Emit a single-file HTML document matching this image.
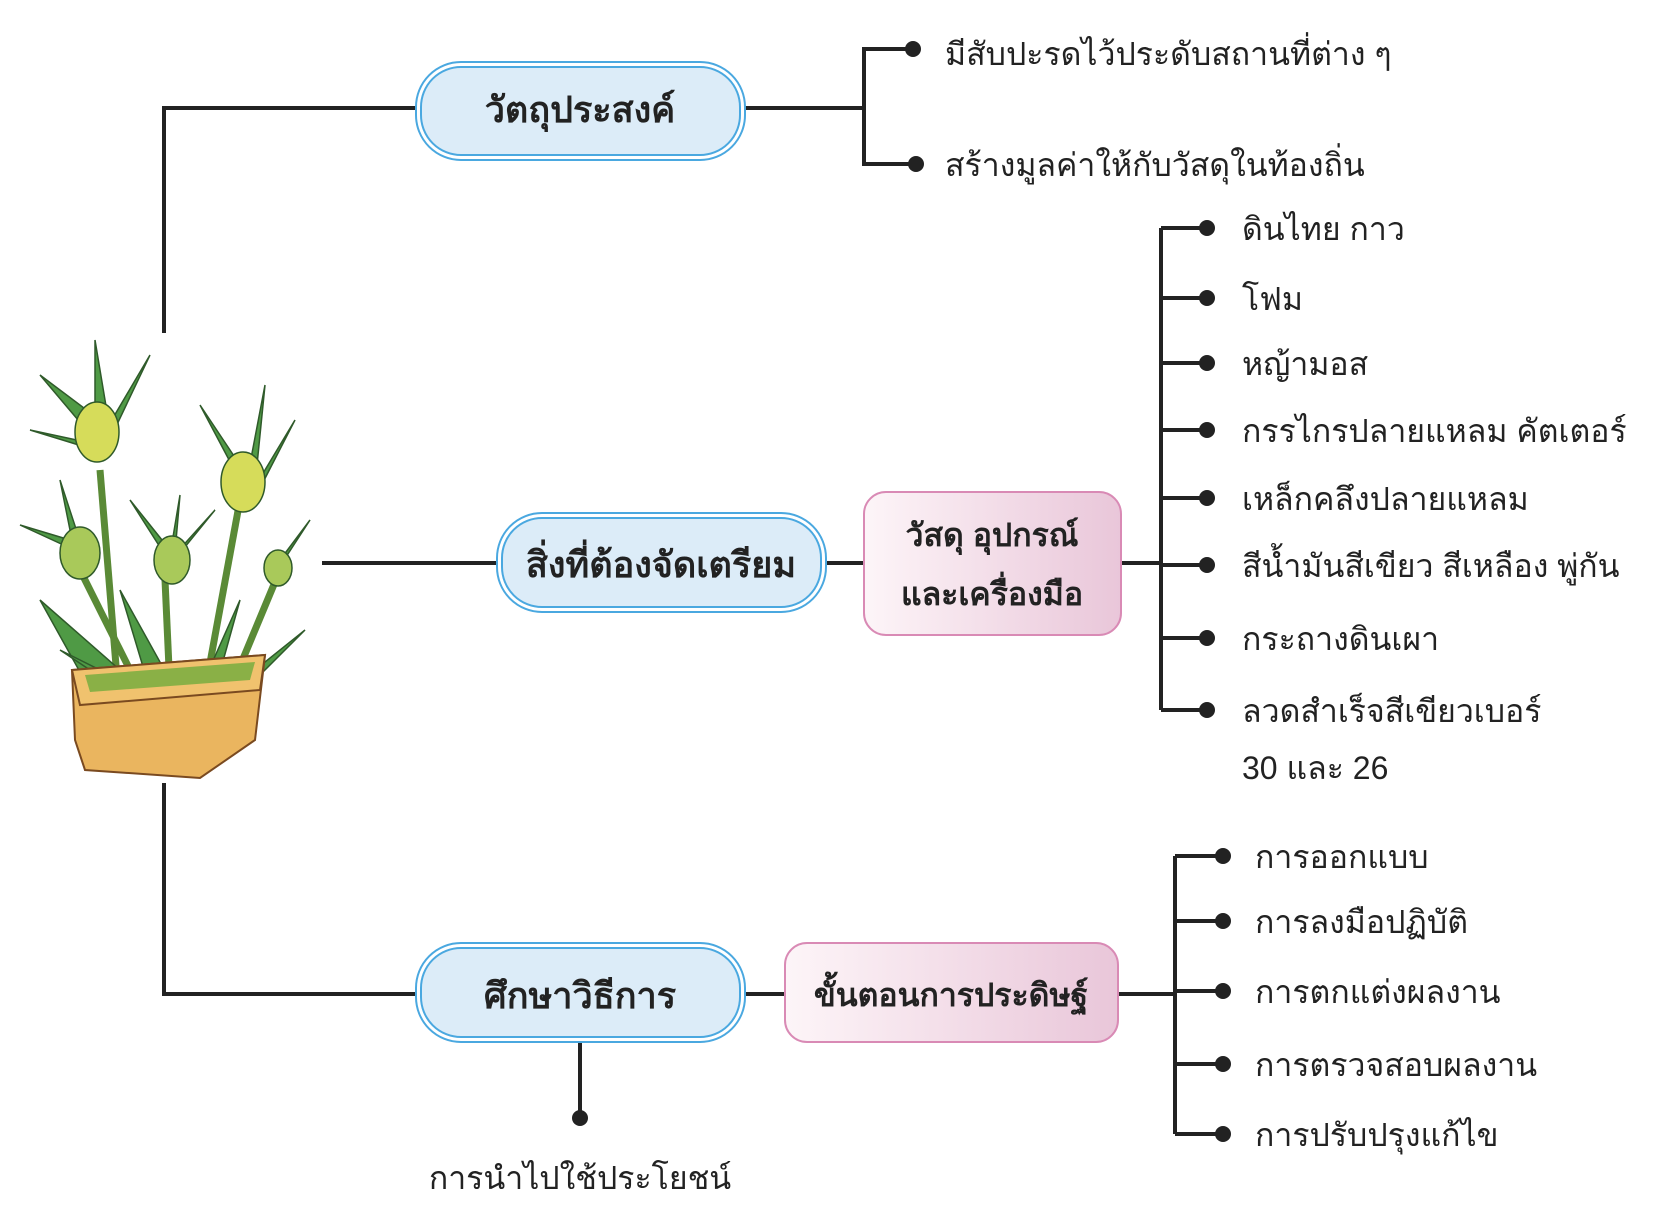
<!DOCTYPE html>
<html><head><meta charset="utf-8"><style>
body{margin:0;background:#fff;}
.t{font-family:"Liberation Sans","Noto Sans CJK SC",sans-serif;fill:#222;}
</style></head><body>
<svg width="1674" height="1202" viewBox="0 0 1674 1202" xmlns="http://www.w3.org/2000/svg">
<defs>
<linearGradient id="pk" x1="0" x2="1"><stop offset="0" stop-color="#fdf5f8"/><stop offset="1" stop-color="#e9c6d9"/></linearGradient>
</defs>
<g stroke="#222" stroke-width="4" fill="none">
<polyline points="164,333 164,108 416,108"/>
<line x1="745" y1="108" x2="864" y2="108"/>
<polyline points="913,49 864,49 864,164 916,164"/>
<line x1="322" y1="563" x2="497" y2="563"/>
<line x1="826" y1="563" x2="864" y2="563"/>
<line x1="1121" y1="563" x2="1161" y2="563"/>
<line x1="1161" y1="228" x2="1161" y2="710"/>
<line x1="1161" y1="228" x2="1207" y2="228"/><line x1="1161" y1="298" x2="1207" y2="298"/>
<line x1="1161" y1="363" x2="1207" y2="363"/><line x1="1161" y1="430" x2="1207" y2="430"/>
<line x1="1161" y1="498" x2="1207" y2="498"/><line x1="1161" y1="565" x2="1207" y2="565"/>
<line x1="1161" y1="638" x2="1207" y2="638"/><line x1="1161" y1="710" x2="1207" y2="710"/>
<polyline points="164,783 164,994 416,994"/>
<line x1="580" y1="1042" x2="580" y2="1118"/>
<line x1="745" y1="994" x2="785" y2="994"/>
<line x1="1118" y1="994" x2="1175" y2="994"/>
<line x1="1175" y1="856" x2="1175" y2="1134"/>
<line x1="1175" y1="856" x2="1223" y2="856"/><line x1="1175" y1="921" x2="1223" y2="921"/>
<line x1="1175" y1="991" x2="1223" y2="991"/><line x1="1175" y1="1064" x2="1223" y2="1064"/>
<line x1="1175" y1="1134" x2="1223" y2="1134"/>
</g>
<g fill="#222">
<circle cx="913" cy="49" r="8"/><circle cx="916" cy="164" r="8"/>
<circle cx="1207" cy="228" r="8"/><circle cx="1207" cy="298" r="8"/><circle cx="1207" cy="363" r="8"/><circle cx="1207" cy="430" r="8"/>
<circle cx="1207" cy="498" r="8"/><circle cx="1207" cy="565" r="8"/><circle cx="1207" cy="638" r="8"/><circle cx="1207" cy="710" r="8"/>
<circle cx="580" cy="1118" r="8"/>
<circle cx="1223" cy="856" r="8"/><circle cx="1223" cy="921" r="8"/><circle cx="1223" cy="991" r="8"/><circle cx="1223" cy="1064" r="8"/><circle cx="1223" cy="1134" r="8"/>
</g>
<!-- boxes -->
<g stroke="#4aa8e0" stroke-width="2">
<rect x="416" y="62" width="329" height="98" rx="45" fill="#fff"/>
<rect x="421" y="67" width="319" height="88" rx="40" fill="#dcecf8"/>
<rect x="497" y="513" width="329" height="99" rx="45" fill="#fff"/>
<rect x="502" y="518" width="319" height="89" rx="40" fill="#dcecf8"/>
<rect x="416" y="943" width="329" height="99" rx="45" fill="#fff"/>
<rect x="421" y="948" width="319" height="89" rx="40" fill="#dcecf8"/>
</g>
<g stroke="#d98ab5" stroke-width="2" fill="url(#pk)">
<rect x="864" y="492" width="257" height="143" rx="22"/>
<rect x="785" y="943" width="333" height="99" rx="22"/>
</g>
<g class="t" font-weight="bold" font-size="36" text-anchor="middle">
<text x="580" y="122">วัตถุประสงค์</text>
<text x="661" y="577">สิ่งที่ต้องจัดเตรียม</text>
<text x="580" y="1008">ศึกษาวิธีการ</text>
<text x="992" y="546" font-size="32">วัสดุ อุปกรณ์</text>
<text x="992" y="605" font-size="32">และเครื่องมือ</text>
<text x="951" y="1006" font-size="32">ขั้นตอนการประดิษฐ์</text>
</g>
<g class="t" font-size="32">
<text x="945" y="65">มีสับปะรดไว้ประดับสถานที่ต่าง ๆ</text>
<text x="945" y="176">สร้างมูลค่าให้กับวัสดุในท้องถิ่น</text>
<text x="1242" y="240">ดินไทย กาว</text>
<text x="1242" y="310">โฟม</text>
<text x="1242" y="375">หญ้ามอส</text>
<text x="1242" y="442">กรรไกรปลายแหลม คัตเตอร์</text>
<text x="1242" y="510">เหล็กคลึงปลายแหลม</text>
<text x="1242" y="577">สีน้ำมันสีเขียว สีเหลือง พู่กัน</text>
<text x="1242" y="650">กระถางดินเผา</text>
<text x="1242" y="722">ลวดสำเร็จสีเขียวเบอร์</text>
<text x="1242" y="779">30 และ 26</text>
<text x="1255" y="868">การออกแบบ</text>
<text x="1255" y="933">การลงมือปฏิบัติ</text>
<text x="1255" y="1003">การตกแต่งผลงาน</text>
<text x="1255" y="1076">การตรวจสอบผลงาน</text>
<text x="1255" y="1146">การปรับปรุงแก้ไข</text>
<text x="580" y="1189" text-anchor="middle">การนำไปใช้ประโยชน์</text>
</g>
<!-- plant -->
<g stroke="#2f5a2a" stroke-width="1.5">
<g stroke="#5a8a36" stroke-width="7" fill="none">
<path d="M100 470 L118 690"/><path d="M240 500 L205 690"/><path d="M165 580 L170 690"/><path d="M280 570 L230 690"/><path d="M75 560 L140 690"/>
</g>
<g fill="#4f9a45">
<path d="M95 440 L40 375 L100 420Z"/><path d="M95 440 L95 340 L110 430Z"/><path d="M100 440 L150 355 L112 435Z"/><path d="M100 445 L30 430 L95 450Z"/>
<path d="M245 490 L200 405 L250 480Z"/><path d="M245 490 L265 385 L255 485Z"/><path d="M250 495 L295 420 L258 492Z"/>
<path d="M165 555 L130 500 L170 550Z"/><path d="M170 555 L180 495 L175 552Z"/><path d="M170 560 L215 510 L176 558Z"/>
<path d="M70 540 L20 525 L70 548Z"/><path d="M72 540 L60 480 L78 535Z"/><path d="M280 560 L310 520 L284 560Z"/>
<path d="M90 690 L40 600 L120 670Z"/><path d="M150 690 L120 590 L170 680Z"/><path d="M200 690 L240 600 L215 690Z"/><path d="M230 690 L305 630 L245 690Z"/><path d="M120 690 L60 650 L140 690Z"/>
</g>
<g fill="#d6dc5a">
<ellipse cx="97" cy="432" rx="22" ry="30"/><ellipse cx="243" cy="482" rx="22" ry="30"/>
<ellipse cx="80" cy="553" rx="20" ry="26" fill="#a9c95a"/><ellipse cx="172" cy="560" rx="18" ry="24" fill="#a9c95a"/><ellipse cx="278" cy="568" rx="14" ry="18" fill="#a9c95a"/>
</g>
<path d="M72 670 L265 655 L255 740 L200 778 L85 770 L75 740Z" fill="#eab55f" stroke="#7a4a20" stroke-width="2"/>
<path d="M72 670 L265 655 L260 690 L80 705Z" fill="#f0c26e" stroke="#7a4a20" stroke-width="2"/>
<path d="M85 675 L255 662 L250 680 L90 692Z" fill="#8ab046" stroke="none"/>
</g>
</svg>
</body></html>
